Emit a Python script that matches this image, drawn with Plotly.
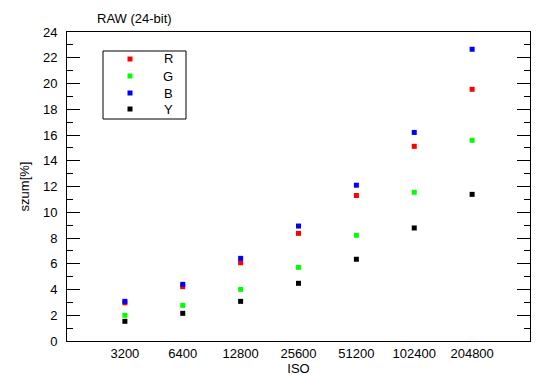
import plotly.graph_objects as go

iso = ["3200", "6400", "12800", "25600", "51200", "102400", "204800"]
R = [2.97, 4.22, 6.08, 8.36, 11.3, 15.12, 19.55]
G = [2.0, 2.77, 4.01, 5.72, 8.21, 11.55, 15.59]
B = [3.08, 4.40, 6.42, 8.93, 12.1, 16.2, 22.66]
Y = [1.53, 2.15, 3.08, 4.48, 6.35, 8.78, 11.39]

series = [("R", R, "#ff0000"), ("G", G, "#00ff00"), ("B", B, "#0000ff"), ("Y", Y, "#000000")]

fig = go.Figure()
for name, vals, col in series:
    fig.add_trace(go.Scatter(x=iso, y=vals, mode="markers", name=name, showlegend=False,
                             marker=dict(symbol="square", size=5, color=col, line=dict(width=0))))

# the page body adds an 8px offset; margins compensate so the plot lands at 67..530 x 32..341
W, H = 550, 389
PL, PR, PT, PB = 67, 530, 32, 341
PW, PH = PR - PL, PB - PT

def fx(px):
    return (px - PL) / PW

def fy(py):
    return (PB - py) / PH

# boxed legend (drawn in paper coordinates, compact spacing like the original)
shapes = [dict(type="rect", xref="paper", yref="paper", x0=fx(103), x1=fx(186), y0=fy(119), y1=fy(51),
               line=dict(color="#000", width=1), fillcolor="white", layer="below")]
annotations = []
legend_rows = [59, 76, 93, 109]
for (name, vals, col), ry in zip(series, legend_rows):
    shapes.append(dict(type="rect", xref="paper", yref="paper",
                       x0=fx(130 - 2.5), x1=fx(130 + 2.5), y0=fy(ry + 2.5), y1=fy(ry - 2.5),
                       line=dict(width=0), fillcolor=col))
    annotations.append(dict(text=name, xref="paper", yref="paper", x=fx(168), y=fy(ry),
                            xanchor="center", yanchor="middle", showarrow=False,
                            font=dict(size=13)))

font = dict(family="Liberation Sans, Arial, sans-serif", size=13, color="#000")
fig.update_layout(
    width=W, height=H,
    margin=dict(l=PL - 8, r=W + 8 - PR, t=PT - 8, b=H + 8 - PB, pad=0),
    paper_bgcolor="white", plot_bgcolor="white",
    font=font,
    title=dict(text="RAW (24-bit)", x=89/W, xanchor="left", y=1-10/H, yanchor="middle",
               font=dict(size=13)),
    showlegend=False,
    shapes=shapes,
    annotations=annotations,
    xaxis=dict(type="category", range=[-1, 7], showline=True, linecolor="#000", linewidth=1,
               mirror=True, ticks="", showgrid=False, zeroline=False,
               title=dict(text="ISO", standoff=4, font=dict(size=13))),
    yaxis=dict(range=[0, 24], dtick=2, showline=True, linecolor="#000", linewidth=1,
               mirror="allticks", ticks="inside", ticklen=13, tickcolor="#000",
               ticklabelstandoff=6,
               showgrid=False, zeroline=False,
               minor=dict(dtick=1, ticks="inside", ticklen=6, tickcolor="#000", showgrid=False),
               title=dict(text="szum[%]", standoff=10, font=dict(size=13))),
)
fig.write_html("out.html")
